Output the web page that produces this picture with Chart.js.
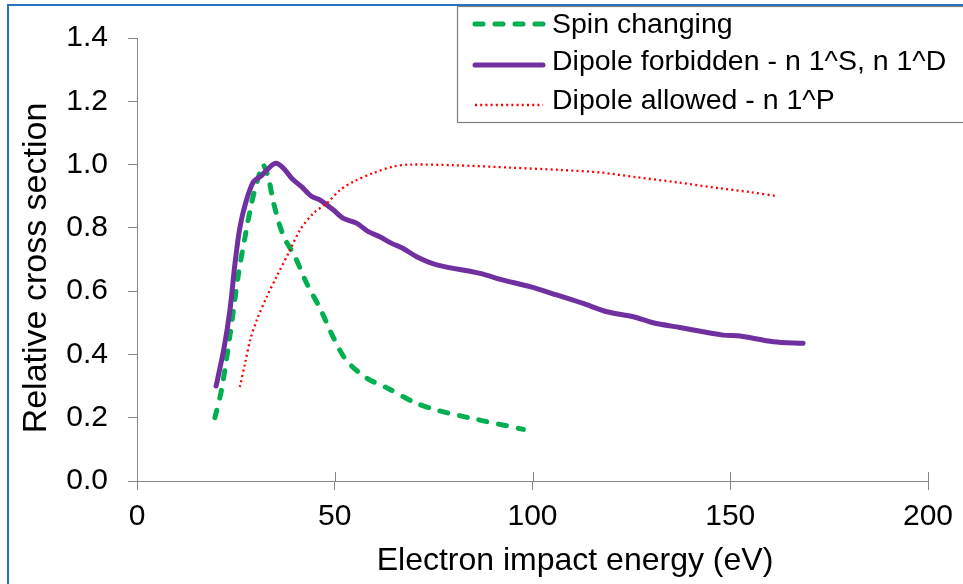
<!DOCTYPE html>
<html>
<head>
<meta charset="utf-8">
<script src="https://cdn.jsdelivr.net/npm/chart.js@4"></script>
<style>
  html, body { margin: 0; padding: 0; background: #fff; }
  #wrap { width: 963px; height: 584px; }
</style>
</head>
<body>
<div id="wrap"><canvas id="chart" width="963" height="584"></canvas></div>
<script>
// series (x = eV, y = relative cross section)
const spinX = [19.7, 21.4, 23.5, 25.6, 27.3, 29.0, 30.7, 31.8, 33.2, 34.5, 37.0, 39.9, 42.9, 46.3, 49.6, 53.0, 58.1, 63.1, 69.9, 75.8, 85.0, 97.7];
const spinY = [0.20, 0.29, 0.46, 0.65, 0.77, 0.88, 0.96, 1.00, 0.96, 0.88, 0.775, 0.71, 0.625, 0.545, 0.455, 0.38, 0.325, 0.295, 0.25, 0.224, 0.197, 0.163];

const forbX = [20.0, 22.0, 23.5, 24.8, 26.0, 27.5, 29.4, 31.5, 33.0, 35.0, 37.0, 39.1, 41.6, 44.2, 46.3, 49.6, 52.2, 55.5, 58.5, 61.4, 64.4, 67.3, 70.7, 75.8, 86.7, 92.6, 99.4, 106.1, 112.8, 118.8, 125.5, 130.5, 137.3, 148.2, 152.5, 160.9, 168.4];
const forbY = [0.30, 0.42, 0.54, 0.69, 0.80, 0.88, 0.945, 0.965, 0.985, 1.004, 0.989, 0.957, 0.930, 0.899, 0.888, 0.857, 0.830, 0.815, 0.788, 0.772, 0.751, 0.735, 0.709, 0.683, 0.656, 0.635, 0.614, 0.588, 0.561, 0.535, 0.519, 0.500, 0.485, 0.461, 0.458, 0.440, 0.435];

const allowX = [26.0, 27.3, 28.6, 30.3, 32.8, 35.3, 38.7, 41.2, 44.6, 48.0, 51.3, 54.7, 59.7, 64.8, 69.0, 80.0, 95.0, 107.0, 117.1, 126.3, 136.5, 147.4, 155.0, 162.0];
const allowY = [0.297, 0.371, 0.445, 0.509, 0.582, 0.646, 0.730, 0.793, 0.846, 0.878, 0.919, 0.946, 0.973, 0.994, 1.000, 0.998, 0.990, 0.983, 0.975, 0.960, 0.944, 0.925, 0.913, 0.900];

const xTicks = [0, 50, 100, 150, 200];
const yTicks = [0, 0.2, 0.4, 0.6, 0.8, 1.0, 1.2, 1.4];

const xTitle = "Electron impact energy (eV)";
const yTitle = "Relative cross section";

const FONT = "'Liberation Sans', Arial, sans-serif";
const AXIS_GREY = "#868686";

function pts(xs, ys) {
  return xs.map((x, i) => ({ x, y: ys[i] }));
}

// blue frame, legend box, axis titles and the upper half of the x ticks
const decor = {
  id: "decor",
  afterDraw(chart) {
    const ctx = chart.ctx;
    const xs = chart.scales.x;
    const area = chart.chartArea;

    ctx.save();
    ctx.strokeStyle = AXIS_GREY;
    ctx.lineWidth = 1;
    xTicks.forEach(v => {
      const px = Math.round(xs.getPixelForValue(v)) + 0.5;
      ctx.beginPath();
      ctx.moveTo(px, area.bottom);
      ctx.lineTo(px, area.bottom - 9);
      ctx.stroke();
    });

    // axis titles (placed off-centre like the original)
    ctx.fillStyle = "#000";
    ctx.textAlign = "center";
    ctx.textBaseline = "middle";
    ctx.font = "32px " + FONT;
    ctx.fillText(xTitle, 575, 561);
    ctx.save();
    ctx.translate(37, 268);
    ctx.rotate(-Math.PI / 2);
    ctx.font = "34px " + FONT;
    ctx.fillText(yTitle, 0, 0);
    ctx.restore();

    // legend
    const box = { left: 457.5, top: 6.5, bottom: 122.5 };
    ctx.fillStyle = "#fff";
    ctx.fillRect(box.left, box.top, 963, box.bottom - box.top);
    ctx.strokeStyle = "#7f7f7f";
    ctx.lineWidth = 1.2;
    ctx.strokeRect(box.left, box.top, 600, box.bottom - box.top);

    const lineRows = [24, 65, 105];
    const textRows = [25, 62, 101];
    ctx.font = "28.5px " + FONT;
    ctx.textBaseline = "middle";
    ctx.textAlign = "left";
    chart.data.datasets.forEach((ds, i) => {
      const y = lineRows[i];
      ctx.save();
      ctx.strokeStyle = ds.borderColor;
      ctx.lineWidth = ds.borderWidth;
      ctx.lineCap = ds.borderCapStyle || "butt";
      ctx.setLineDash(ds.borderDash || []);
      ctx.beginPath();
      ctx.moveTo(475, y);
      ctx.lineTo(543, y);
      ctx.stroke();
      ctx.restore();
      ctx.fillStyle = "#000";
      ctx.fillText(ds.label, 552, textRows[i]);
    });

    // outer blue frame
    ctx.strokeStyle = "#2a72bd";
    ctx.lineWidth = 2;
    ctx.beginPath();
    ctx.moveTo(8, 600);
    ctx.lineTo(8, 5);
    ctx.lineTo(970, 5);
    ctx.stroke();
    ctx.restore();
  }
};

new Chart(document.getElementById("chart"), {
  type: "line",
  data: {
    datasets: [
      {
        label: "Spin changing",
        data: pts(spinX, spinY),
        borderColor: "#00b050",
        borderWidth: 5,
        borderDash: [8, 12],
        borderCapStyle: "round",
        pointRadius: 0,
        tension: 0.3,
        order: 3
      },
      {
        label: "Dipole forbidden - n 1^S, n 1^D",
        data: pts(forbX, forbY),
        borderColor: "#7030a0",
        borderWidth: 5,
        borderCapStyle: "round",
        pointRadius: 0,
        tension: 0.3,
        order: 2
      },
      {
        label: "Dipole allowed - n 1^P",
        data: pts(allowX, allowY),
        borderColor: "#ff0000",
        borderWidth: 2.3,
        borderDash: [2, 3.2],
        pointRadius: 0,
        tension: 0.3,
        order: 1
      }
    ]
  },
  options: {
    responsive: false,
    devicePixelRatio: 1,
    animation: false,
    layout: { padding: { left: 0, right: 35, top: 38, bottom: 0 } },
    plugins: {
      legend: { display: false },
      tooltip: { enabled: false }
    },
    scales: {
      x: {
        type: "linear",
        min: 0,
        max: 200,
        afterBuildTicks: s => { s.ticks = xTicks.map(v => ({ value: v })); },
        afterFit: s => { s.height = 103; },
        ticks: {
          color: "#000",
          font: { family: FONT, size: 30 },
          padding: 9,
          maxRotation: 0
        },
        grid: { drawOnChartArea: false, tickLength: 9, color: AXIS_GREY },
        border: { color: AXIS_GREY, width: 1 }
      },
      y: {
        min: 0,
        max: 1.4,
        afterBuildTicks: s => { s.ticks = yTicks.map(v => ({ value: v })); },
        afterFit: s => { s.width = 137; },
        ticks: {
          color: "#000",
          font: { family: FONT, size: 30 },
          padding: 20,
          callback: v => v.toFixed(1)
        },
        grid: { drawOnChartArea: false, tickLength: 9, color: AXIS_GREY },
        border: { color: AXIS_GREY, width: 1 }
      }
    }
  },
  plugins: [decor]
});
</script>
</body>
</html>
